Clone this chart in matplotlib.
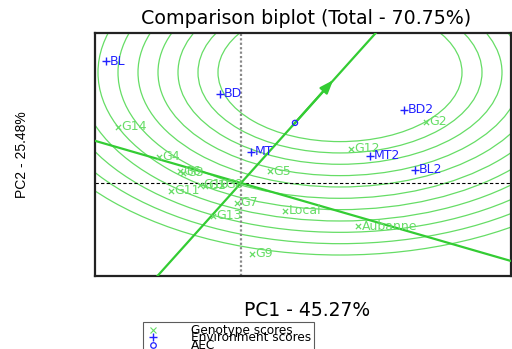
import numpy as np
import matplotlib.pyplot as plt
from matplotlib.patches import Circle
from matplotlib.lines import Line2D

# genotype scores (PC1, PC2)
gen_names = ["G14", "G4", "G6", "G3", "G11", "G10", "G1", "G8", "G5", "G7",
             "G13", "Local", "Aubanne", "G9", "G12", "G2"]
gen_x = [-1.23, -0.82, -0.61, -0.58, -0.70, -0.41, -0.36, -0.19, 0.29, -0.04,
         -0.28, 0.44, 1.17, 0.11, 1.10, 1.85]
gen_y = [0.99, 0.46, 0.21, 0.18, -0.14, -0.03, -0.05, -0.03, 0.21, -0.35,
         -0.58, -0.49, -0.76, -1.25, 0.60, 1.08]

# environment scores
env_names = ["BL", "BD", "MT", "BD2", "MT2", "BL2"]
env_x = [-1.35, -0.21, 0.10, 1.63, 1.29, 1.74]
env_y = [2.15, 1.57, 0.55, 1.29, 0.48, 0.23]

aec = (0.54, 1.06)
ideal = (0.99, 1.95)
radii = [1.22 + 0.2 * k for k in range(11)]

green = "#33cc33"
lgreen = "#66dd66"
blue = "#2222ff"

plt.rcParams['font.family'] = ['DejaVu Sans']

fig = plt.figure(figsize=(5.12, 3.49), dpi=100)
ax = fig.add_axes([95 / 512, 1 - 276 / 349, 416 / 512, 243 / 349])
ax.set_xlim(-1.46, 2.70)
ax.set_ylim(-1.64, 2.645)
ax.set_xticks([])
ax.set_yticks([])
for s in ax.spines.values():
    s.set_linewidth(1.6)
    s.set_color("#222222")

for r in radii:
    ax.add_patch(Circle(ideal, r, fill=False, ec=lgreen, lw=0.9, zorder=1))

ax.axhline(0, color="black", ls=(0, (3, 2)), lw=0.8, zorder=2)
ax.axvline(0, color="#888888", ls=(0, (1, 1)), lw=1.6, zorder=2)

ax.axline((0, 0), aec, color=green, lw=1.6, zorder=3)
ax.axline((0, 0), (aec[1], -aec[0]), color=green, lw=1.6, zorder=3)
ax.annotate("", xy=(0.94, 1.85), xytext=(0.5, 0.98),
            arrowprops=dict(arrowstyle="-|>,head_length=0.8,head_width=0.3",
                            color=green, lw=1.6), zorder=3)

ax.scatter(gen_x, gen_y, marker="x", s=14, c=lgreen, lw=0.9, zorder=4)
for n, x, y in zip(gen_names, gen_x, gen_y):
    ax.annotate(n, (x, y), xytext=(2.5, 0), textcoords="offset points",
                va="center", ha="left", color=lgreen, fontsize=9, zorder=4)

ax.scatter(env_x, env_y, marker="+", s=40, c=blue, lw=1.0, zorder=5)
for n, x, y in zip(env_names, env_x, env_y):
    ax.annotate(n, (x, y), xytext=(3, 0), textcoords="offset points",
                va="center", ha="left", color=blue, fontsize=9, zorder=5)

ax.scatter([aec[0]], [aec[1]], marker="o", s=14, facecolors="none",
           edgecolors=blue, lw=0.9, zorder=5)

fig.text(306 / 512, 1 - 19 / 349, "Comparison biplot (Total - 70.75%)",
         ha="center", va="center", fontsize=13.7)
fig.text(307 / 512, 1 - 310 / 349, "PC1 - 45.27%", ha="center", va="center",
         fontsize=13.5)
fig.text(22 / 512, 1 - 155 / 349, "PC2 - 25.48%", ha="center", va="center",
         rotation=90, fontsize=10, family=["Liberation Sans"])

handles = [Line2D([], [], ls="none", marker="x", ms=4, mec=lgreen, mew=0.8),
           Line2D([], [], ls="none", marker="+", ms=6, mec=blue, mew=1.0),
           Line2D([], [], ls="none", marker="o", ms=4, mfc="none", mec=blue,
                  mew=0.9)]
leg = fig.legend(handles, ["Genotype scores", "Environment scores", "AEC"],
                 loc="upper left", bbox_to_anchor=(143 / 512, 1 - 321.5 / 349),
                 fontsize=8.7, frameon=True, fancybox=False,
                 labelspacing=-0.45, borderpad=0.2, handletextpad=2.6,
                 handlelength=1.2, borderaxespad=0)
leg.get_frame().set_edgecolor("#333333")
leg.get_frame().set_linewidth(0.8)

fig.savefig("out.png", dpi=100)
